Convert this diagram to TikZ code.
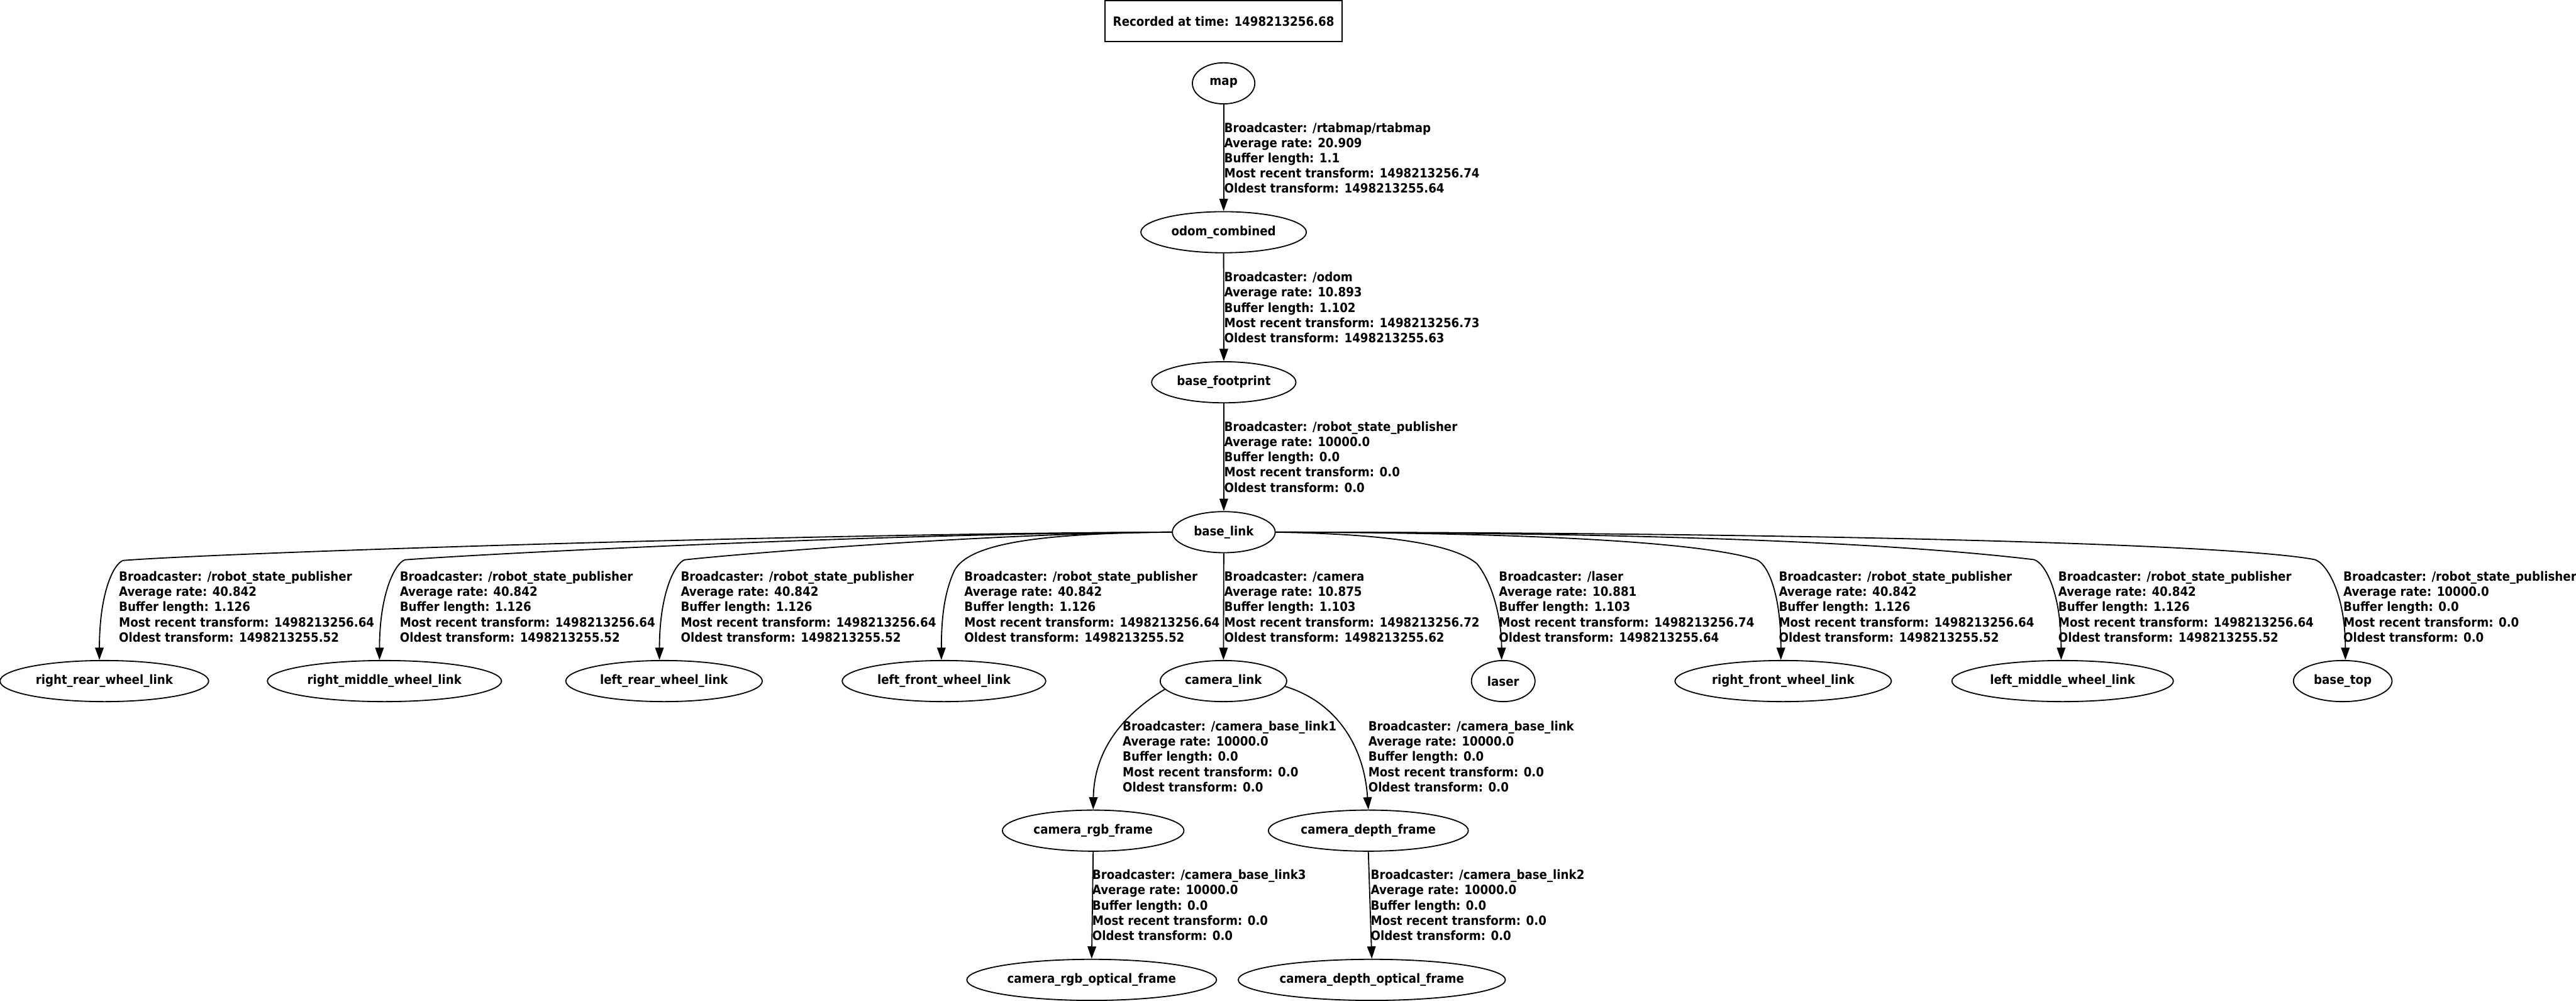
\documentclass[tikz,border=0pt]{standalone}
\usepackage{fontspec}
\setmainfont{DejaVu Sans Condensed}[BoldFont={DejaVu Sans Condensed Bold}]
\usetikzlibrary{arrows.meta,shapes.geometric}
\newcommand{\tfinfo}[5]{Broadcaster: #1\\Average rate: #2\\Buffer length: #3\\Most recent transform: #4\\Oldest transform: #5}
\tikzset{
  fnt/.style={font=\fontsize{7.75}{9.25}\selectfont\bfseries},
  tfnode/.style={ellipse, draw, line width=0.7pt, inner sep=0pt, minimum height=25pt, fnt},
  stamp/.style={rectangle, draw, line width=0.7pt, inner sep=0pt, minimum width=144.5pt, minimum height=25pt, fnt},
  tflabel/.style={anchor=north west, align=left, inner sep=0pt, fnt},
  tfedge/.style={draw, line width=0.7pt, -{Triangle[length=7.5pt,width=5.2pt]}},
}
\begin{document}
\begin{tikzpicture}[x=1pt,y=-1pt]
\useasboundingbox (0,0) rectangle (1568,609);

% nodes
\node[stamp] (rec) at (744.8,12.9) {Recorded at time: 1498213256.68};
\node[tfnode, minimum width=38pt] (map) at (744.8,50.7) {\makebox[0pt]{map}};
\node[tfnode, minimum width=100.7pt] (odom) at (744.8,141.3) {\makebox[0pt]{odom\_combined}};
\node[tfnode, minimum width=87.8pt] (fp) at (744.9,232.6) {\makebox[0pt]{base\_footprint}};
\node[tfnode, minimum width=62.6pt] (bl) at (744.9,323.8) {\makebox[0pt]{base\_link}};
\node[tfnode, minimum width=127pt] (rr) at (63.5,414.4) {\makebox[0pt]{right\_rear\_wheel\_link}};
\node[tfnode, minimum width=142.5pt] (rm) at (234,414.4) {\makebox[0pt]{right\_middle\_wheel\_link}};
\node[tfnode, minimum width=119.6pt] (lr) at (404.2,414.4) {\makebox[0pt]{left\_rear\_wheel\_link}};
\node[tfnode, minimum width=123.9pt] (lf) at (574.6,414.4) {\makebox[0pt]{left\_front\_wheel\_link}};
\node[tfnode, minimum width=77pt] (cl) at (744.7,414.4) {\makebox[0pt]{camera\_link}};
\node[tfnode, minimum width=38.7pt] (la) at (915,414.4) {\makebox[0pt]{laser}};
\node[tfnode, minimum width=131.7pt] (rf) at (1085.4,414.4) {\makebox[0pt]{right\_front\_wheel\_link}};
\node[tfnode, minimum width=134.8pt] (lm) at (1255.5,414.4) {\makebox[0pt]{left\_middle\_wheel\_link}};
\node[tfnode, minimum width=60pt] (bt) at (1426,414.4) {\makebox[0pt]{base\_top}};
\node[tfnode, minimum width=110.5pt] (crgb) at (665.4,505.4) {\makebox[0pt]{camera\_rgb\_frame}};
\node[tfnode, minimum width=121.7pt] (cdep) at (832.9,505.4) {\makebox[0pt]{camera\_depth\_frame}};
\node[tfnode, minimum width=152pt] (crgbo) at (664.5,596.2) {\makebox[0pt]{camera\_rgb\_optical\_frame}};
\node[tfnode, minimum width=162.6pt] (cdepo) at (835,596.2) {\makebox[0pt]{camera\_depth\_optical\_frame}};

% straight edges
\draw[tfedge] (map.south) -- (odom.north);
\draw[tfedge] (odom.south) -- (fp.north);
\draw[tfedge] (fp.south) -- (bl.north);
\draw[tfedge] (bl.south) -- (cl.north);
\draw[tfedge] (crgb.south) -- (crgbo.north);
\draw[tfedge] (cdep.south) -- (cdepo.north);

% base_link fan, left side
\draw[tfedge] (bl.west) .. controls (500,324.5) and (140,336) .. (75,341)
  .. controls (69,343) and (60.5,361) .. ([xshift=-3pt]rr.north);
\draw[tfedge] (bl.west) .. controls (550,324.3) and (310,336) .. (246.5,340.6)
  .. controls (240.5,342.6) and (231,361) .. ([xshift=-3pt]rm.north);
\draw[tfedge] (bl.west) .. controls (620,324) and (470,335) .. (416.8,340.6)
  .. controls (410.8,342.6) and (401.4,361) .. ([xshift=-2.8pt]lr.north);
\draw[tfedge] (bl.west) .. controls (630,324.5) and (590,331) .. (581,347)
  .. controls (575,360) and (573,375) .. ([xshift=-1.6pt]lf.north);
% base_link fan, right side
\draw[tfedge] (bl.east) .. controls (850,325) and (886,332) .. (899,343)
  .. controls (908,354) and (914,375) .. ([xshift=-1pt]la.north);
\draw[tfedge] (bl.east) .. controls (900,323.9) and (1030,328) .. (1069,340.5)
  .. controls (1076,343) and (1084,361) .. ([xshift=-1.4pt]rf.north);
\draw[tfedge] (bl.east) .. controls (1000,324) and (1150,330) .. (1238,340.5)
  .. controls (1245,342.5) and (1254.6,361) .. ([xshift=-0.9pt]lm.north);
\draw[tfedge] (bl.east) .. controls (1100,324) and (1360,331) .. (1409,340.5)
  .. controls (1416,342.5) and (1427.6,361) .. ([xshift=1.6pt]bt.north);

% camera edges
\draw[tfedge] (cl.188) .. controls (685,434) and (666,455) .. (crgb.north);
\draw[tfedge] (cl.355) .. controls (810,426) and (830,450) .. (cdep.north);

% labels
\node[tflabel] (t1) at (745,74.4) {\tfinfo{/rtabmap/rtabmap}{20.909}{1.1}{1498213256.74}{1498213255.64}};
\node[tflabel] (t2) at (745,165.3) {\tfinfo{/odom}{10.893}{1.102}{1498213256.73}{1498213255.63}};
\node[tflabel] (t3) at (745,256.3) {\tfinfo{/robot\_state\_publisher}{10000.0}{0.0}{0.0}{0.0}};
\node[tflabel] (t4) at (72.2,347.5) {\tfinfo{/robot\_state\_publisher}{40.842}{1.126}{1498213256.64}{1498213255.52}};
\node[tflabel] (t5) at (243.2,347.5) {\tfinfo{/robot\_state\_publisher}{40.842}{1.126}{1498213256.64}{1498213255.52}};
\node[tflabel] (t6) at (414.2,347.5) {\tfinfo{/robot\_state\_publisher}{40.842}{1.126}{1498213256.64}{1498213255.52}};
\node[tflabel] (t7) at (586.8,347.5) {\tfinfo{/robot\_state\_publisher}{40.842}{1.126}{1498213256.64}{1498213255.52}};
\node[tflabel] (t8) at (745,347.5) {\tfinfo{/camera}{10.875}{1.103}{1498213256.72}{1498213255.62}};
\node[tflabel] (t9) at (912.2,347.5) {\tfinfo{/laser}{10.881}{1.103}{1498213256.74}{1498213255.64}};
\node[tflabel] (t10) at (1082.6,347.5) {\tfinfo{/robot\_state\_publisher}{40.842}{1.126}{1498213256.64}{1498213255.52}};
\node[tflabel] (t11) at (1252.7,347.5) {\tfinfo{/robot\_state\_publisher}{40.842}{1.126}{1498213256.64}{1498213255.52}};
\node[tflabel] (t12) at (1426.2,347.5) {\tfinfo{/robot\_state\_publisher}{10000.0}{0.0}{0.0}{0.0}};
\node[tflabel] (t13) at (683.2,438.6) {\tfinfo{/camera\_base\_link1}{10000.0}{0.0}{0.0}{0.0}};
\node[tflabel] (t14) at (832.7,438.6) {\tfinfo{/camera\_base\_link}{10000.0}{0.0}{0.0}{0.0}};
\node[tflabel] (t15) at (664.7,529) {\tfinfo{/camera\_base\_link3}{10000.0}{0.0}{0.0}{0.0}};
\node[tflabel] (t16) at (834.2,529) {\tfinfo{/camera\_base\_link2}{10000.0}{0.0}{0.0}{0.0}};
\end{tikzpicture}
\end{document}
